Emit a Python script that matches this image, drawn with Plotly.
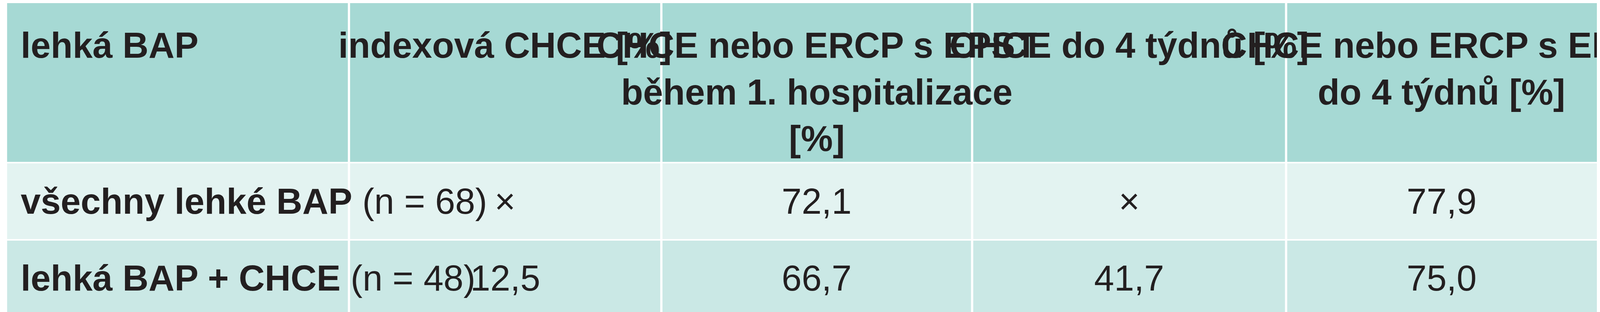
import plotly.graph_objects as go

headers = ["lehká BAP", "indexová CHCE [%]", "CHCE nebo ERCP s EPST<br>během 1. hospitalizace<br>[%]",
           "CHCE do 4 týdnů [%]", "CHCE nebo ERCP s EPST<br>do 4 týdnů [%]"]
row_labels = ["všechny lehké BAP", "lehká BAP + CHCE"]
row_n = ["(n = 68)", "(n = 48)"]
indexova = ["×", "12,5"]
hosp1 = ["72,1", "66,7"]
do4 = ["×", "41,7"]
ercp4 = ["77,9", "75,0"]

H = 800
col_edges = [0.0025, 0.217, 0.413, 0.608, 0.805, 1.0]
row_edges = [0, 407, 605, 800]
fills = ["#a6d9d4", "#e3f3f1", "#cae8e5"]
FONT = "Liberation Sans Narrow, Liberation Sans, Arial"
FS = 92
TC = "#231f20"
G = 0.0007

fig = go.Figure()
shapes = []
for r in range(3):
    for c in range(5):
        x0 = col_edges[c] + (0 if c == 0 else G)
        x1 = col_edges[c + 1] - (G if c < 4 else 0)
        y0 = row_edges[r] + (0 if r == 0 else 4)
        y1 = row_edges[r + 1]
        shapes.append(dict(type="rect", xref="paper", yref="y", x0=x0, x1=x1, y0=y0, y1=y1,
                           fillcolor=fills[r], line=dict(width=0), layer="below"))
ann = []
LX = col_edges[0] + 0.008
for c, h in enumerate(headers):
    if c == 0:
        ann.append(dict(x=LX, y=55, text="<b>" + h + "</b>", xanchor="left", yanchor="top", align="left"))
    else:
        ann.append(dict(x=(col_edges[c] + col_edges[c + 1]) / 2, y=55, text="<b>" + h + "</b>",
                        xanchor="center", yanchor="top", align="center"))
cols = [indexova, hosp1, do4, ercp4]
for r in range(2):
    yc = (row_edges[r + 1] + row_edges[r + 2]) / 2 + 2
    ann.append(dict(x=LX, y=yc, text="<b>" + row_labels[r] + "</b> " + row_n[r],
                    xanchor="left", yanchor="middle", align="left"))
    for c in range(4):
        ann.append(dict(x=(col_edges[c + 1] + col_edges[c + 2]) / 2, y=yc, text=cols[c][r],
                        xanchor="center", yanchor="middle"))
for a in ann:
    a.update(xref="paper", yref="y", showarrow=False, font=dict(family=FONT, size=FS, color=TC))

fig.update_layout(autosize=True, height=H, margin=dict(l=0, r=0, t=0, b=0),
                  paper_bgcolor="white", plot_bgcolor="white",
                  shapes=shapes, annotations=ann,
                  xaxis=dict(range=[0, 1], visible=False, fixedrange=True),
                  yaxis=dict(range=[H, 0], visible=False, fixedrange=True),
                  showlegend=False)
fig.write_html("out.html", config={"responsive": True})
